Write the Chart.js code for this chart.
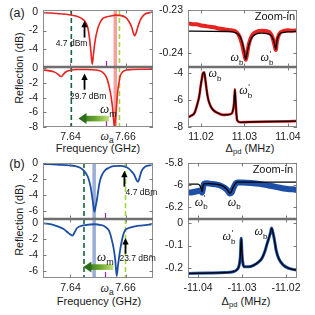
<!DOCTYPE html>
<html><head><meta charset="utf-8">
<script src="https://cdn.jsdelivr.net/npm/chart.js@4/dist/chart.umd.min.js"></script>
<style>
body{margin:0;width:315px;height:315px;background:#fff;position:relative;overflow:hidden;font-family:"Liberation Sans",Arial,sans-serif;color:#1a1a1a}
canvas{position:absolute}
.t{position:absolute;white-space:nowrap;transform:translate(-50%,-50%);line-height:1}
.rot{transform:translate(-50%,-50%) rotate(-90deg)}
sub{font-size:70%;vertical-align:-0.3em;line-height:0}
i.w{font-family:"Liberation Serif",serif}
</style></head><body>
<div class="t" style="left:17px;top:13px;font-size:12.5px">(a)</div>
<div class="t" style="left:17px;top:164px;font-size:12.5px">(b)</div>
<div class="t rot" style="left:19px;top:68px;font-size:10.8px">Reflection (dB)</div>
<div class="t rot" style="left:19px;top:220px;font-size:10.8px">Reflection (dB)</div>
<div class="t" style="left:98px;top:148px;font-size:11px">Frequency (GHz)</div>
<div class="t" style="left:99px;top:301px;font-size:11px">Frequency (GHz)</div>
<div class="t" style="left:250px;top:148px;font-size:11px">&Delta;<sub>pd</sub> (MHz)</div>
<div class="t" style="left:246px;top:301px;font-size:11px">&Delta;<sub>pd</sub> (MHz)</div>
<div class="t" style="left:107px;top:136px;font-size:12px"><i class="w">&omega;</i><sub>a</sub></div>
<div class="t" style="left:107px;top:288px;font-size:12px"><i class="w">&omega;</i><sub>a</sub></div>
<script>
// ---------- data ----------
// (a) left, 4.7 dBm
const aTopFreq = [7.6298,7.633,7.636,7.6395,7.642,7.644,7.6452,7.6462,7.6469,7.6474,7.6479,7.6484,7.649,7.6498,7.6505,7.6516,7.653,7.6545,7.6565,7.6585,7.66,7.6612,7.6622,7.6628,7.6633,7.6638,7.6645,7.6655,7.6668,7.6698];
const aTopRefl = [-0.08,-0.12,-0.2,-0.3,-0.45,-0.7,-1.0,-1.6,-2.8,-4.2,-5.6,-4.4,-3.0,-1.9,-1.3,-0.75,-0.55,-0.45,-0.35,-0.4,-0.6,-1.0,-1.6,-2.2,-2.55,-2.3,-1.6,-0.8,-0.3,-0.02];
// (a) left, 29.7 dBm
const aBotFreq = [7.6298,7.632,7.6342,7.6355,7.6362,7.6367,7.6373,7.6384,7.64,7.6421,7.646,7.6493,7.6505,7.6516,7.6528,7.6535,7.6543,7.6548,7.6553,7.6556,7.656,7.6563,7.6566,7.6572,7.6577,7.6581,7.6588,7.6596,7.6625,7.666,7.6698];
const aBotRefl = [-0.2,-0.3,-0.5,-0.8,-1.05,-1.1,-0.85,-0.45,-0.25,-0.15,-0.15,-0.2,-0.3,-0.5,-1.0,-1.65,-2.9,-3.95,-5.4,-6.7,-8.0,-6.9,-5.8,-3.0,-1.8,-1.0,-0.55,-0.3,-0.15,-0.1,-0.1];
// (b) left, 4.7 dBm
const bTopFreq = [7.6295,7.632,7.636,7.6395,7.6417,7.6435,7.6447,7.6458,7.6465,7.6472,7.6477,7.6482,7.6487,7.6491,7.6496,7.6502,7.6508,7.6516,7.6526,7.654,7.6556,7.658,7.6599,7.6612,7.6623,7.6632,7.6637,7.6645,7.6649,7.6653,7.666,7.6672,7.6695];
const bTopRefl = [-0.15,-0.15,-0.22,-0.3,-0.4,-0.6,-0.9,-1.4,-1.9,-2.8,-3.8,-5.0,-6.1,-5.5,-4.6,-3.2,-2.1,-1.4,-0.9,-0.6,-0.4,-0.35,-0.45,-0.7,-1.1,-1.5,-1.9,-2.35,-2.1,-1.6,-0.9,-0.45,-0.25];
// (b) left, 23.7 dBm
const bBotFreq = [7.6295,7.632,7.634,7.6356,7.6375,7.6393,7.6407,7.6415,7.6423,7.6435,7.6453,7.649,7.651,7.6526,7.654,7.655,7.6558,7.6563,7.6568,7.6572,7.6575,7.658,7.6584,7.6591,7.6599,7.661,7.6623,7.665,7.6672,7.6695];
const bBotRefl = [-0.05,-0.15,-0.3,-0.5,-0.8,-1.3,-1.6,-1.2,-0.7,-0.45,-0.3,-0.2,-0.3,-0.5,-1.0,-2.1,-3.4,-4.7,-6.6,-5.5,-4.7,-3.5,-2.7,-1.6,-0.9,-0.7,-0.55,-0.38,-0.3,-0.2];
// marker frequencies (GHz)
const aPumpDark = 7.6403, aPumpLight = 7.6578, aOmegaA = 7.6563, aPurple = 7.6528;
const bPumpDark = 7.6449, bPumpLight = 7.6600, bOmegaA = 7.6486, bPurple = 7.6526;
// (a) right, zoom-in (red data, black fit)
const aZoomDelta = [11.017,11.018,11.019,11.02,11.021,11.022,11.023,11.024,11.025,11.026,11.027,11.028,11.0288,11.0294,11.03,11.0303,11.0306,11.031,11.0316,11.0325,11.034,11.0355,11.0364,11.037,11.0372,11.0375,11.038,11.039,11.04,11.041,11.0421];
const aZoomData  = [-0.2331,-0.2333,-0.2333,-0.2336,-0.2337,-0.2339,-0.234,-0.2343,-0.2344,-0.2346,-0.2347,-0.235,-0.236,-0.2378,-0.2405,-0.2416,-0.2402,-0.238,-0.2362,-0.2352,-0.2348,-0.235,-0.2362,-0.2385,-0.2393,-0.2372,-0.2356,-0.2349,-0.2347,-0.2348,-0.2347];
const aFitDelta  = [11.017,11.026,11.028,11.029,11.0296,11.03,11.0303,11.0306,11.031,11.0316,11.0325,11.034,11.036,11.0366,11.037,11.0372,11.0375,11.038,11.039,11.0421];
const aFitData   = [-0.2349,-0.235,-0.2353,-0.2362,-0.238,-0.24,-0.2415,-0.24,-0.2382,-0.2365,-0.2357,-0.2354,-0.2358,-0.2368,-0.2382,-0.2392,-0.237,-0.2357,-0.2352,-0.235];
// (a) right, peaks
const aPeakDelta = [11.017,11.0178,11.0185,11.0192,11.0196,11.0199,11.0202,11.0204,11.0207,11.0209,11.0211,11.0214,11.0217,11.0222,11.0228,11.024,11.0251,11.0262,11.0271,11.0274,11.0276,11.0278,11.028,11.0283,11.029,11.031,11.035,11.04,11.0421];
const aPeakData  = [-7.28,-7.15,-6.95,-6.24,-5.7,-5.0,-4.4,-4.05,-3.95,-4.25,-4.77,-5.5,-6.0,-6.45,-6.74,-6.98,-7.1,-7.08,-6.99,-6.7,-6.24,-5.2,-6.3,-7.48,-7.65,-7.63,-7.6,-7.58,-7.56];
// (b) right, zoom-in (blue data, black fit)
const bZoomDelta = [-11.0423,-11.0415,-11.0408,-11.04,-11.0396,-11.0393,-11.0391,-11.0389,-11.0387,-11.038,-11.037,-11.036,-11.035,-11.034,-11.0333,-11.0328,-11.0324,-11.032,-11.0314,-11.031,-11.03,-11.028,-11.026,-11.024,-11.022,-11.02,-11.0185,-11.0175];
const bZoomData  = [-6.07,-6.068,-6.062,-6.055,-6.05,-6.06,-6.07,-6.03,-5.99,-5.985,-5.99,-5.995,-6.005,-6.025,-6.05,-6.078,-6.07,-6.03,-5.985,-5.978,-5.978,-5.982,-5.99,-6.005,-6.02,-6.035,-6.04,-6.045];
const bFitDelta  = [-11.0423,-11.04,-11.0396,-11.0393,-11.0391,-11.0389,-11.0387,-11.0375,-11.036,-11.035,-11.034,-11.0333,-11.0328,-11.0325,-11.032,-11.0315,-11.031,-11.029,-11.0175];
const bFitData   = [-5.993,-5.993,-6.005,-6.03,-6.06,-6.01,-5.99,-5.988,-5.992,-6.0,-6.02,-6.045,-6.075,-6.065,-6.02,-5.985,-5.975,-5.975,-5.975];
// (b) right, peaks
const bPeakDelta = [-11.0423,-11.038,-11.034,-11.032,-11.0312,-11.0307,-11.0304,-11.0302,-11.03,-11.0298,-11.0295,-11.0285,-11.0274,-11.0262,-11.0255,-11.0248,-11.0244,-11.0238,-11.0235,-11.0233,-11.023,-11.0227,-11.0222,-11.0216,-11.0206,-11.0195,-11.0176];
const bPeakData  = [-0.224,-0.222,-0.22,-0.216,-0.208,-0.19,-0.15,-0.068,-0.14,-0.18,-0.194,-0.194,-0.188,-0.172,-0.157,-0.125,-0.098,-0.06,-0.04,-0.022,-0.04,-0.068,-0.125,-0.16,-0.187,-0.2,-0.209];
// tick values / labels
const freqTicks = [7.64, 7.66], freqTickLabels = ['7.64', '7.66'];
const aDeltaTicks = [11.02, 11.03, 11.04], aDeltaLabels = ['11.02', '11.03', '11.04'];
const bDeltaTicks = [-11.04, -11.03, -11.02], bDeltaLabels = ['-11.04', '-11.03', '-11.02'];

// ---------- drawing ----------
const FONT = '"Liberation Sans", Arial, sans-serif';
const RED = '#e8231f', BLUE = '#1d4fa6', DKGREEN = '#17653a', LTGREEN = '#9fd63c';
const pts = (xs, ys) => xs.map((x, i) => ({x, y: ys[i]}));

function omega(ctx, x, y, sub, prime, size) {
  const big = 'italic ' + size + 'px "Liberation Serif", serif';
  const small = Math.round(size * 0.66) + 'px ' + FONT;
  ctx.font = big; const w1 = ctx.measureText('\u03c9').width;
  ctx.font = small; const w2 = ctx.measureText(sub).width;
  const x0 = x - (w1 + w2) / 2;
  ctx.textAlign = 'left'; ctx.textBaseline = 'middle'; ctx.fillStyle = '#111';
  ctx.font = big; ctx.fillText('\u03c9', x0, y);
  ctx.font = small; ctx.fillText(sub, x0 + w1, y + size * 0.38);
  if (prime) { ctx.font = size * 0.7 + 'px ' + FONT; ctx.fillText("'", x0 + w1 + 0.5, y - size * 0.3); }
}

const deco = {
  id: 'deco',
  afterDatasetsDraw(chart, args, o) {
    const ctx = chart.ctx, a = chart.chartArea, xs = chart.scales.x, ys = chart.scales.y;
    const L = Math.round(a.left), R = Math.round(a.right), T = Math.round(a.top), B = Math.round(a.bottom);
    ctx.save();
    const line = (x1, y1, x2, y2) => { ctx.beginPath(); ctx.moveTo(x1, y1); ctx.lineTo(x2, y2); ctx.stroke(); };
    if (o.purple != null) {
      const p = Math.round(xs.getPixelForValue(o.purple)) + 0.5;
      ctx.strokeStyle = '#a020b0'; ctx.lineWidth = 1.2; line(p, B - 1, p, B - 6);
    }
    ctx.strokeStyle = '#8c8c8c'; ctx.lineWidth = 1;
    ctx.strokeRect(L + 0.5, T + 0.5, R - L - 1, B - T - 1);
    ctx.strokeStyle = '#6f6f6f'; ctx.lineWidth = 1.3;
    if (o.sepBottom) line(L, B - 0.5, R, B - 0.5);
    if (o.sepTop) line(L, T + 0.5, R, T + 0.5);
    ctx.strokeStyle = '#7a7a7a'; ctx.lineWidth = 1;
    (o.xt || []).forEach(v => { const p = Math.round(xs.getPixelForValue(v)) + 0.5; line(p, B, p, B - 3.5); line(p, T, p, T + 3.5); });
    (o.yt || []).forEach(v => { const p = Math.round(ys.getPixelForValue(v)) + 0.5; line(L, p, L + 3.5, p); line(R, p, R - 3.5, p); });
    // black arrows
    (o.arrows || []).forEach(ar => {
      const x = xs.getPixelForValue(ar.x), y0 = ys.getPixelForValue(ar.y0), y1 = ys.getPixelForValue(ar.y1);
      ctx.strokeStyle = '#000'; ctx.fillStyle = '#000'; ctx.lineWidth = 1.8;
      line(x, y0, x, y1 + 5);
      ctx.beginPath(); ctx.moveTo(x, y1); ctx.lineTo(x - 3.2, y1 + 6.5); ctx.lineTo(x + 3.2, y1 + 6.5); ctx.closePath(); ctx.fill();
    });
    // green gradient arrow (pointing left)
    if (o.green) {
      const g = o.green, xt = xs.getPixelForValue(g.x0), xh = xs.getPixelForValue(g.x1), y = ys.getPixelForValue(g.y);
      const grad = ctx.createLinearGradient(xh, 0, xt, 0);
      grad.addColorStop(0, '#2c6a1c'); grad.addColorStop(0.55, '#6aa52e'); grad.addColorStop(1, '#c4e37a');
      ctx.fillStyle = grad;
      ctx.fillRect(xh + 7, y - 2.8, xt - xh - 7, 5.6);
      ctx.fillStyle = '#2c6a1c';
      ctx.beginPath(); ctx.moveTo(xh, y); ctx.lineTo(xh + 8, y - 5.5); ctx.lineTo(xh + 8, y + 5.5); ctx.closePath(); ctx.fill();
    }
    (o.texts || []).forEach(t => {
      ctx.font = t.size + 'px ' + FONT; ctx.fillStyle = '#111'; ctx.textAlign = 'center'; ctx.textBaseline = 'middle';
      ctx.fillText(t.t, xs.getPixelForValue(t.x), ys.getPixelForValue(t.y));
    });
    (o.omegas || []).forEach(w => omega(ctx, xs.getPixelForValue(w.x), ys.getPixelForValue(w.y), w.sub, w.prime, w.size || 12));
    ctx.restore();
  }
};

function curve(xs, ys, color, width) {
  return {data: pts(xs, ys), borderColor: color, borderWidth: width, pointRadius: 0, fill: false, cubicInterpolationMode: 'monotone'};
}
function vline(x, y0, y1, color, width, dash) {
  return {data: [{x, y: y0}, {x, y: y1}], borderColor: color, borderWidth: width, borderDash: dash || [], pointRadius: 0, tension: 0, fill: false};
}

function panel(p) {
  const padL = 42, padR = 6, padT = 6, padB = p.xLabels ? 26 : 6;
  const W = p.w + padL + padR, H = p.h + padT + padB;
  const c = document.createElement('canvas');
  c.width = W; c.height = H;
  c.style.left = (p.l - padL) + 'px'; c.style.top = (p.t - padT) + 'px';
  c.style.width = W + 'px'; c.style.height = H + 'px';
  document.body.appendChild(c);
  const tickFont = {size: 10.5, family: FONT};
  new Chart(c, {
    type: 'line',
    data: {datasets: p.datasets},
    options: {
      responsive: false, animation: false, devicePixelRatio: 1, events: [],
      layout: {padding: {left: 0, right: padR, top: padT, bottom: p.xLabels ? 0 : padB}},
      plugins: {legend: {display: false}, tooltip: {enabled: false}, deco: p.deco},
      scales: {
        x: {type: 'linear', min: p.xmin, max: p.xmax, bounds: 'data',
            grid: {display: false, drawTicks: false}, border: {display: false},
            afterBuildTicks: s => { s.ticks = p.xTicks.map(v => ({value: v})); },
            ticks: {display: !!p.xLabels, padding: 4, color: '#1a1a1a', font: tickFont, maxRotation: 0, autoSkip: false,
                    callback: (v, i) => p.xLabelsArr[i]},
            afterFit: s => { s.height = p.xLabels ? padB : 0; s.paddingLeft = 0; s.paddingRight = 0; }},
        y: {type: 'linear', min: p.ymin, max: p.ymax, bounds: 'data',
            grid: {display: false, drawTicks: false}, border: {display: false},
            afterBuildTicks: s => { s.ticks = p.yTicks.map(v => ({value: v})); },
            ticks: {padding: 5, color: '#1a1a1a', font: tickFont, autoSkip: false,
                    callback: (v, i) => p.yLabels[i]},
            afterFit: s => { s.width = padL; s.paddingTop = 0; s.paddingBottom = 0; }}
      }
    },
    plugins: [deco]
  });
}

const LX = 43, LW = 110, RX = 188, RW = 109;
// (a) left top
panel({l: LX, t: 10, w: LW, h: 57, xmin: 7.63, xmax: 7.67, ymin: -5.9, ymax: 0.2,
  xTicks: freqTicks, xLabelsArr: freqTickLabels, yTicks: [0, -2, -4], yLabels: ['0', '-2', '-4'],
  datasets: [curve(aTopFreq, aTopRefl, RED, 1.6),
    vline(aOmegaA, 0.2, -5.9, 'rgba(238,95,95,0.6)', 3.5),
    vline(aPumpLight, 0.2, -5.9, LTGREEN, 1.6, [5, 3]),
    vline(aPumpDark, 0.2, -5.9, DKGREEN, 1.6, [5, 3])],
  deco: {xt: freqTicks, yt: [0, -2, -4], sepBottom: true, purple: aPurple,
    arrows: [{x: 7.6451, y0: -2.75, y1: -0.95}],
    texts: [{t: '4.7 dBm', x: 7.6404, y: -3.35, size: 8.5}]}});
// (a) left bottom
panel({l: LX, t: 67, w: LW, h: 60, xmin: 7.63, xmax: 7.67, ymin: -8, ymax: 0.2, xLabels: true,
  xTicks: freqTicks, xLabelsArr: freqTickLabels, yTicks: [0, -2, -4, -6, -8], yLabels: ['0', '-2', '-4', '-6', '-8'],
  datasets: [curve(aBotFreq, aBotRefl, RED, 1.6),
    vline(aOmegaA, 0.2, -8, 'rgba(238,95,95,0.6)', 3.5),
    vline(aPumpLight, 0.2, -8, LTGREEN, 1.6, [5, 3]),
    vline(aPumpDark, 0.2, -8, DKGREEN, 1.6, [5, 3])],
  deco: {xt: freqTicks, yt: [0, -2, -4, -6, -8], sepTop: true, purple: aPurple,
    arrows: [{x: 7.6451, y0: -2.9, y1: -0.7}],
    texts: [{t: '29.7 dBm', x: 7.6464, y: -3.85, size: 8.5}],
    green: {x0: 7.6540, x1: 7.6429, y: -6.85},
    omegas: [{x: 7.6538, y: -5.6, sub: 'm', size: 13}]}});
// (b) left top
panel({l: LX, t: 163, w: LW, h: 56, xmin: 7.63, xmax: 7.67, ymin: -7, ymax: 0,
  xTicks: freqTicks, xLabelsArr: freqTickLabels, yTicks: [0, -2, -4, -6], yLabels: ['0', '-2', '-4', '-6'],
  datasets: [curve(bTopFreq, bTopRefl, BLUE, 1.8),
    vline(bOmegaA, 0, -7, 'rgba(110,140,196,0.7)', 3.5),
    vline(bPumpLight, 0, -7, LTGREEN, 1.6, [5, 3]),
    vline(bPumpDark, 0, -7, DKGREEN, 1.6, [5, 3])],
  deco: {xt: freqTicks, yt: [0, -2, -4, -6], sepBottom: true, purple: bPurple,
    arrows: [{x: 7.6596, y0: -2.96, y1: -0.96}],
    texts: [{t: '4.7 dBm', x: 7.6658, y: -3.7, size: 8.5}]}});
// (b) left bottom
panel({l: LX, t: 219, w: LW, h: 59, xmin: 7.63, xmax: 7.67, ymin: -6.85, ymax: 0.45, xLabels: true,
  xTicks: freqTicks, xLabelsArr: freqTickLabels, yTicks: [0, -2, -4, -6], yLabels: ['0', '-2', '-4', '-6'],
  datasets: [curve(bBotFreq, bBotRefl, BLUE, 1.8),
    vline(bOmegaA, 0.45, -6.85, 'rgba(110,140,196,0.7)', 3.5),
    vline(bPumpLight, 0.45, -6.85, LTGREEN, 1.6, [5, 3]),
    vline(bPumpDark, 0.45, -6.85, DKGREEN, 1.6, [5, 3])],
  deco: {xt: freqTicks, yt: [0, -2, -4, -6], sepTop: true, purple: bPurple,
    arrows: [{x: 7.6600, y0: -3.85, y1: -1.9}],
    texts: [{t: '23.7 dBm', x: 7.6644, y: -4.4, size: 8.5}],
    green: {x0: 7.6556, x1: 7.6447, y: -5.5},
    omegas: [{x: 7.6527, y: -4.3, sub: 'm', size: 13}]}});
// (a) right top (zoom-in)
panel({l: RX, t: 10, w: RW, h: 57, xmin: 11.017, xmax: 11.0421, ymin: -0.24326, ymax: -0.23,
  xTicks: aDeltaTicks, xLabelsArr: aDeltaLabels, yTicks: [-0.23, -0.24], yLabels: ['-0.23', '-0.24'],
  datasets: [curve(aFitDelta, aFitData, '#000', 1.3), curve(aZoomDelta, aZoomData, RED, 4)],
  deco: {xt: aDeltaTicks, yt: [-0.23, -0.24], sepBottom: true,
    texts: [{t: 'Zoom-in', x: 11.037, y: -0.2316, size: 11}],
    omegas: [{x: 11.0283, y: -0.2412, sub: 'b'}, {x: 11.0352, y: -0.2412, sub: 'b', prime: true}]}});
// (a) right bottom (peaks)
panel({l: RX, t: 67, w: RW, h: 60, xmin: 11.017, xmax: 11.0421, ymin: -8, ymax: -3.55, xLabels: true,
  xTicks: aDeltaTicks, xLabelsArr: aDeltaLabels, yTicks: [-4, -6, -8], yLabels: ['-4', '-6', '-8'],
  datasets: [curve(aPeakDelta, aPeakData, '#000', 1.3), curve(aPeakDelta, aPeakData, RED, 2.6)],
  deco: {xt: aDeltaTicks, yt: [-4, -6, -8], sepTop: true,
    omegas: [{x: 11.0232, y: -4.07, sub: 'b'}, {x: 11.0303, y: -5.33, sub: 'b', prime: true}]}});
// (b) right top (zoom-in)
panel({l: RX, t: 163, w: RW, h: 56, xmin: -11.0423, xmax: -11.0175, ymin: -6.31, ymax: -5.8,
  xTicks: bDeltaTicks, xLabelsArr: bDeltaLabels, yTicks: [-5.8, -6, -6.2], yLabels: ['-5.8', '-6', '-6.2'],
  datasets: [curve(bFitDelta, bFitData, '#000', 1.3), curve(bZoomDelta, bZoomData, BLUE, 6)],
  deco: {xt: bDeltaTicks, yt: [-5.8, -6, -6.2], sepBottom: true,
    texts: [{t: 'Zoom-in', x: -11.023, y: -5.864, size: 11}],
    omegas: [{x: -11.0393, y: -6.16, sub: 'b', prime: true}, {x: -11.0318, y: -6.16, sub: 'b'}]}});
// (b) right bottom (peaks)
panel({l: RX, t: 219, w: RW, h: 59, xmin: -11.0423, xmax: -11.0175, ymin: -0.244, ymax: 0.018, xLabels: true,
  xTicks: bDeltaTicks, xLabelsArr: bDeltaLabels, yTicks: [0, -0.1, -0.2], yLabels: ['0', '-0.1', '-0.2'],
  datasets: [curve(bPeakDelta, bPeakData, '#000', 1.2), curve(bPeakDelta, bPeakData, BLUE, 3)],
  deco: {xt: bDeltaTicks, yt: [0, -0.1, -0.2], sepTop: true,
    omegas: [{x: -11.033, y: -0.061, sub: 'b', prime: true}, {x: -11.0257, y: -0.039, sub: 'b'}]}});
</script>
</body></html>
